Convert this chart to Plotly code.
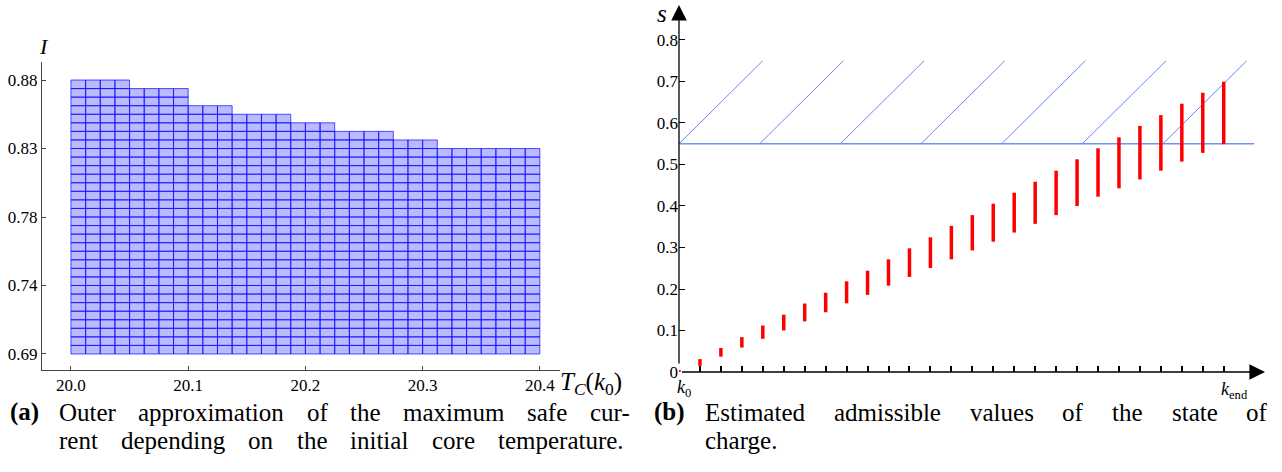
import numpy as np
import plotly.graph_objects as go

# ---------------- data: left panel (a) ----------------
T_range = [20.0, 20.4]
I_range = [0.69, 0.88]
n_T_cells = 32
n_I_cells = 32
step_T_edges = [20.0, 20.05, 20.1, 20.1375, 20.1875, 20.225, 20.275, 20.3125, 20.3625, 20.4]
step_I_upper = [0.880, 0.874, 0.868, 0.862, 0.856, 0.850, 0.844, 0.838, 0.8325]
a_xtick_vals = [20.0, 20.1, 20.2, 20.3, 20.4]
a_xtick_text = ["20.0", "20.1", "20.2", "20.3", "20.4"]
a_ytick_text = ["0.69", "0.74", "0.78", "0.83", "0.88"]

# ---------------- data: right panel (b) ----------------
k_steps = list(range(27))
s_lo = [0.0, 0.015, 0.037, 0.059, 0.080, 0.100, 0.122, 0.144, 0.1655, 0.186, 0.208,
        0.229, 0.2505, 0.2715, 0.293, 0.314, 0.336, 0.357, 0.378, 0.400, 0.4225,
        0.4425, 0.464, 0.485, 0.507, 0.528, 0.549]
s_hi = [0.005, 0.031, 0.058, 0.084, 0.112, 0.138, 0.165, 0.191, 0.2185, 0.244, 0.2715,
        0.298, 0.3245, 0.352, 0.378, 0.4055, 0.432, 0.4585, 0.485, 0.5125, 0.539,
        0.5655, 0.593, 0.619, 0.6465, 0.673, 0.6995]
s_limit = 0.55
hatch_top = 0.75
hatch_k_start = [0, 3.85, 7.7, 11.55, 15.4, 19.25, 23.1]
hatch_dk = 4.0
limit_k_end = 27.45
b_ytick_vals = [0, 0.1, 0.2, 0.3, 0.4, 0.5, 0.6, 0.7, 0.8]
b_ytick_text = ["0", "0.1", "0.2", "0.3", "0.4", "0.5", "0.6", "0.7", "0.8"]

# ---------------- captions (justified word by word) ----------------
cap_a1 = ["<b>(a)</b>", "Outer", "approximation", "of", "the", "maximum", "safe", "cur-"]
cap_a2 = ["rent", "depending", "on", "the", "initial", "core", "temperature."]
cap_b1 = ["<b>(b)</b>", "Estimated", "admissible", "values", "of", "the", "state", "of"]
cap_b2 = ["charge."]

W, H = 1282, 472
FONT = "'Liberation Serif', 'DejaVu Serif', serif"


def px(x):
    return x / W


def py(y):
    return 1 - y / H


fig = go.Figure()

# ---- left: grid of boxes ----
dT = (T_range[1] - T_range[0]) / n_T_cells
dI = (I_range[1] - I_range[0]) / n_I_cells
cx, cy = [], []
for i in range(n_T_cells):
    t0 = T_range[0] + i * dT
    tc = t0 + dT / 2
    j_step = max(j for j in range(len(step_I_upper)) if step_T_edges[j] <= tc + 1e-9)
    top = step_I_upper[j_step]
    for r in range(n_I_cells):
        i0 = I_range[0] + r * dI
        if i0 + dI > top + 1e-4:
            break
        cx += [t0, t0 + dT, t0 + dT, t0, t0, None]
        cy += [i0, i0, i0 + dI, i0 + dI, i0, None]
fig.add_trace(go.Scatter(x=cx, y=cy, mode="lines", fill="toself",
                         fillcolor="rgba(0,0,255,0.27)",
                         line=dict(color="rgba(10,10,255,0.7)", width=1),
                         xaxis="x", yaxis="y", hoverinfo="skip", showlegend=False))

# ---- right: hatched constraint ----
hx = [0, limit_k_end, None]
hy = [s_limit, s_limit, None]
fig.add_trace(go.Scatter(x=hx, y=hy, mode="lines",
                         line=dict(color="rgb(110,150,240)", width=1.5),
                         xaxis="x2", yaxis="y2", hoverinfo="skip", showlegend=False))
dx, dy = [], []
for k0 in hatch_k_start:
    dx += [k0, k0 + hatch_dk, None]
    dy += [s_limit, hatch_top, None]
fig.add_trace(go.Scatter(x=dx, y=dy, mode="lines",
                         line=dict(color="rgb(100,140,240)", width=1),
                         xaxis="x2", yaxis="y2", hoverinfo="skip", showlegend=False))

# ---- right: red admissible intervals ----
bx, by = [], []
for k, lo, hi in zip(k_steps, s_lo, s_hi):
    bx += [k, k, None]
    by += [lo, hi, None]
fig.add_trace(go.Scatter(x=bx, y=by, mode="lines",
                         line=dict(color="rgb(255,0,0)", width=3.5),
                         xaxis="x2", yaxis="y2", hoverinfo="skip", showlegend=False))

axis_font = dict(family=FONT, size=17, color="black")

fig.update_layout(
    width=W, height=H, autosize=False,
    margin=dict(l=0, r=0, t=0, b=0, pad=0),
    paper_bgcolor="white", plot_bgcolor="white",
    font=dict(family=FONT, color="black"),
    xaxis=dict(domain=[px(42), px(560)], range=[19.9753, 20.4172], anchor="y",
               showline=True, linecolor="#444", linewidth=1,
               ticks="inside", ticklen=4, tickcolor="#444", tickwidth=1,
               tickvals=a_xtick_vals, ticktext=a_xtick_text, automargin=False,
               showgrid=False, zeroline=False, tickfont=axis_font),
    yaxis=dict(domain=[py(370), py(62)], range=[0.6789, 0.8925], anchor="x",
               showline=True, linecolor="#444", linewidth=1,
               ticks="inside", ticklen=4, tickcolor="#444", tickwidth=1,
               tickvals=list(np.linspace(I_range[0], I_range[1], 5)), ticktext=a_ytick_text,
               showgrid=False, zeroline=False, tickfont=axis_font, automargin=False),
    xaxis2=dict(domain=[px(679), px(1265)], range=[0, 27.97], anchor="y2",
                showline=False, ticks="inside", ticklen=6, tickcolor="black", tickwidth=1.5,
                tickvals=k_steps[1:], showticklabels=False, automargin=False,
                showgrid=False, zeroline=False, tickfont=axis_font),
    yaxis2=dict(domain=[py(372), py(5)], range=[0, 0.8843], anchor="x2",
                showline=False, ticks="inside", ticklen=6, tickcolor="black", tickwidth=1.3,
                tickvals=b_ytick_vals, ticktext=b_ytick_text, automargin=False,
                showgrid=False, zeroline=False, tickfont=axis_font),
)

ann = []
# axis arrows for (b)
ann.append(dict(x=27.97, y=0, ax=0, ay=0, xref="x2", yref="y2", axref="x2", ayref="y2",
                showarrow=True, arrowhead=2, arrowsize=2.4, arrowwidth=1.3,
                arrowcolor="black", standoff=0, text=" "))
ann.append(dict(x=0, y=0.8843, ax=0, ay=0, xref="x2", yref="y2", axref="x2", ayref="y2",
                showarrow=True, arrowhead=2, arrowsize=2.4, arrowwidth=1.3,
                arrowcolor="black", standoff=0, text=" "))


def label(text, x, y, size, xanchor="left"):
    ann.append(dict(text=text, x=px(x), y=py(y), xref="paper", yref="paper",
                    showarrow=False, xanchor=xanchor, yanchor="middle",
                    font=dict(family=FONT, size=size, color="black")))


label("<i>I</i>", 37, 47, 22)
label("<i>T</i><sub><i>C</i></sub>(<i>k</i><sub>0</sub>)", 558, 383, 25)
label("<i>s</i>", 655, 13, 25)
label("<i>k</i><sub>0</sub>", 675, 388, 18)
label("<i>k</i><sub>end</sub>", 1219, 390, 18)

CAP = 25
cap_a1_x = [8, 57, 136, 305, 348, 401, 525, 588]
cap_a2_x = [57, 119, 246, 295, 348, 430, 496]
cap_b1_x = [652, 703, 832, 968, 1060, 1110, 1170, 1244]
cap_b2_x = [703]
for words, xs, yy in [(cap_a1, cap_a1_x, 412), (cap_a2, cap_a2_x, 440),
                      (cap_b1, cap_b1_x, 412), (cap_b2, cap_b2_x, 440)]:
    for w, xw in zip(words, xs):
        label(w, xw, yy, CAP)

fig.update_layout(annotations=ann)
fig.write_html("out.html", config={"displayModeBar": False},
               post_script="document.body.style.margin='0';document.body.style.overflow='hidden';")
